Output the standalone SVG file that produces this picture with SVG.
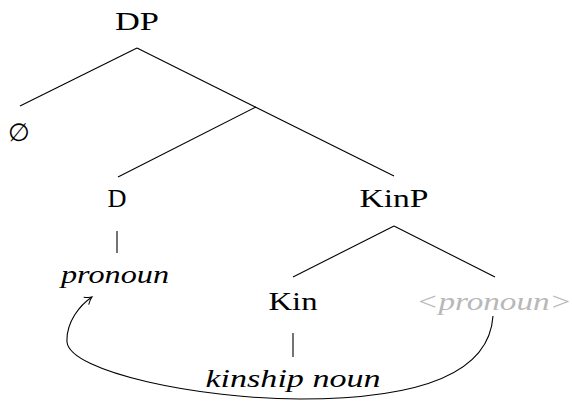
<svg xmlns="http://www.w3.org/2000/svg" width="572" height="401" viewBox="0 0 572 401">
<defs>
<style>
.t{font-family:'Liberation Serif','Times New Roman',serif;font-size:25px;fill:#000;text-anchor:middle}
.it{font-style:italic}
.gray{fill:#b8b8b8}
.e{stroke:#000;stroke-width:1.1;fill:none}
</style>
<marker id="arr" markerWidth="12" markerHeight="12" refX="9" refY="6" orient="auto" markerUnits="userSpaceOnUse">
<path d="M2,1.5 Q6,5 9,6 Q6,7 2,10.5" fill="none" stroke="#000" stroke-width="1"/>
</marker>
</defs>
<rect width="572" height="401" fill="#fff"/>
<g id="connectors">
<line class="e" x1="137" y1="48" x2="20" y2="106"/>
<line class="e" x1="137" y1="48" x2="394" y2="176"/>
<line class="e" x1="256" y1="107" x2="118" y2="177"/>
<line class="e" x1="394" y1="226" x2="293" y2="277"/>
<line class="e" x1="394" y1="226" x2="495" y2="277"/>
<line class="e" x1="117" y1="231" x2="117" y2="253"/>
<line class="e" x1="293" y1="333" x2="293" y2="357"/>
<path class="e" d="M493,316 C489,378 410,399 300,399 C200,399 70,372 67,342 C66,322 80,305 92,297" marker-end="url(#arr)"/>
</g>
<g id="n-DP"><text class="t" x="137" y="30" textLength="44" lengthAdjust="spacingAndGlyphs">DP</text></g>
<g id="n-null"><text class="t" x="19" y="141" font-size="30">∅</text></g>
<g id="n-D"><text class="t" x="117" y="207" textLength="19" lengthAdjust="spacingAndGlyphs">D</text></g>
<g id="n-KinP"><text class="t" x="394" y="207" textLength="69" lengthAdjust="spacingAndGlyphs">KinP</text></g>
<g id="n-pronoun"><text class="t it" x="115" y="283" textLength="108" lengthAdjust="spacingAndGlyphs">pronoun</text></g>
<g id="n-Kin"><text class="t" x="293" y="310" textLength="49" lengthAdjust="spacingAndGlyphs">Kin</text></g>
<g id="n-trace"><text class="t it gray" x="494" y="310" textLength="156" lengthAdjust="spacingAndGlyphs">&lt;pronoun&gt;</text></g>
<g id="n-kinship"><text class="t it" x="293" y="387" textLength="175" lengthAdjust="spacingAndGlyphs">kinship noun</text></g>
</svg>
